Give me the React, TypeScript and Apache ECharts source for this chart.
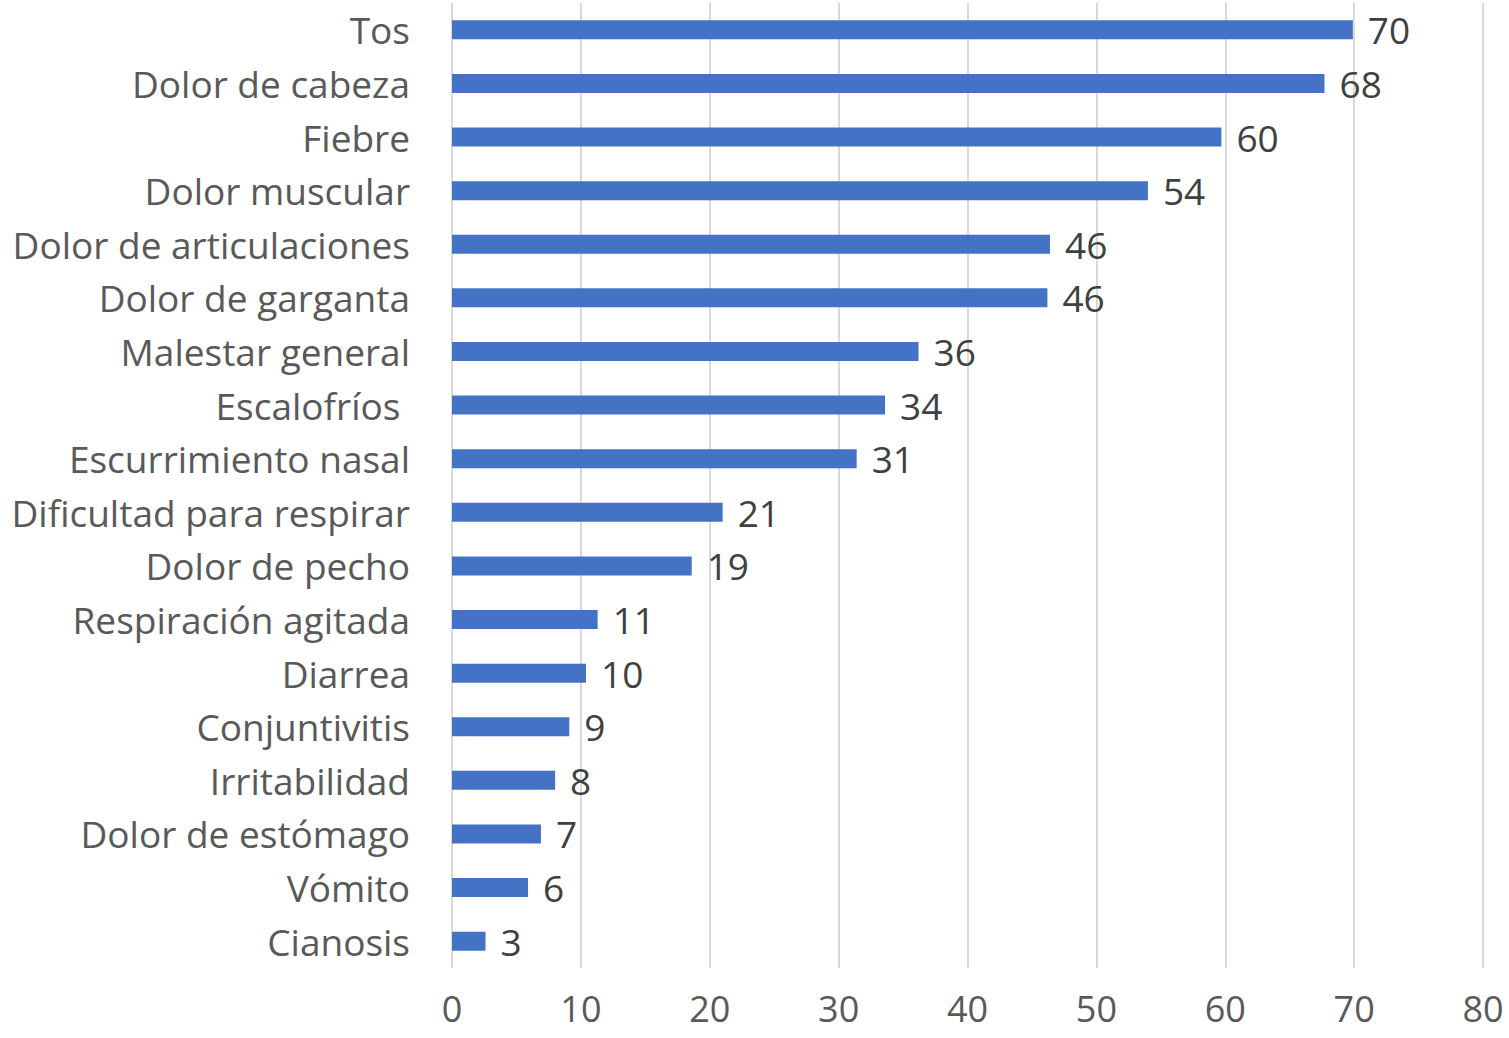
import React, { useEffect, useRef } from "react";
import * as echarts from "echarts";

const categories = [
  "Tos",
  "Dolor de cabeza",
  "Fiebre",
  "Dolor muscular",
  "Dolor de articulaciones",
  "Dolor de garganta",
  "Malestar general",
  "Escalofríos ",
  "Escurrimiento nasal",
  "Dificultad para respirar",
  "Dolor de pecho",
  "Respiración agitada",
  "Diarrea",
  "Conjuntivitis",
  "Irritabilidad",
  "Dolor de estómago",
  "Vómito",
  "Cianosis",
];

const values = [69.9, 67.7, 59.7, 54.0, 46.4, 46.2, 36.2, 33.6, 31.4, 21.0, 18.6, 11.3, 10.4, 9.1, 8.0, 6.9, 5.9, 2.6];

const xTicks = { min: 0, max: 80, interval: 10 };

export default function App() {
  const ref = useRef<HTMLDivElement>(null);
  useEffect(() => {
    document.body.style.margin = "0";
    if (!ref.current) return;
    const chart = echarts.init(ref.current, null, { renderer: "svg" });
    const font = "'Open Sans', 'Noto Sans', sans-serif";
    chart.setOption({
      animation: false,
      grid: { left: 452, right: 26, top: 3, bottom: 70, containLabel: false },
      xAxis: {
        type: "value",
        min: xTicks.min,
        max: xTicks.max,
        interval: xTicks.interval,
        axisLine: { show: false },
        axisTick: { show: false },
        splitLine: { show: true, lineStyle: { color: "#d9d9d9", width: 2 } },
        axisLabel: { color: "#595959", fontSize: 36, fontFamily: font, margin: 22 },
      },
      yAxis: {
        type: "category",
        data: categories.slice().reverse(),
        axisLine: { show: false },
        axisTick: { show: false },
        axisLabel: { color: "#595959", fontSize: 37, fontFamily: font, margin: 42 },
      },
      series: [
        {
          type: "bar",
          data: values.slice().reverse(),
          barWidth: 19,
          itemStyle: { color: "#4472c4" },
          label: {
            show: true,
            position: "right",
            distance: 15,
            color: "#404040",
            fontSize: 37,
            fontFamily: font,
            formatter: (p: any) => String(Math.round(p.value)),
          },
        },
      ],
    });
    return () => chart.dispose();
  }, []);
  return <div ref={ref} style={{ width: 1509, height: 1038 }} />;
}
